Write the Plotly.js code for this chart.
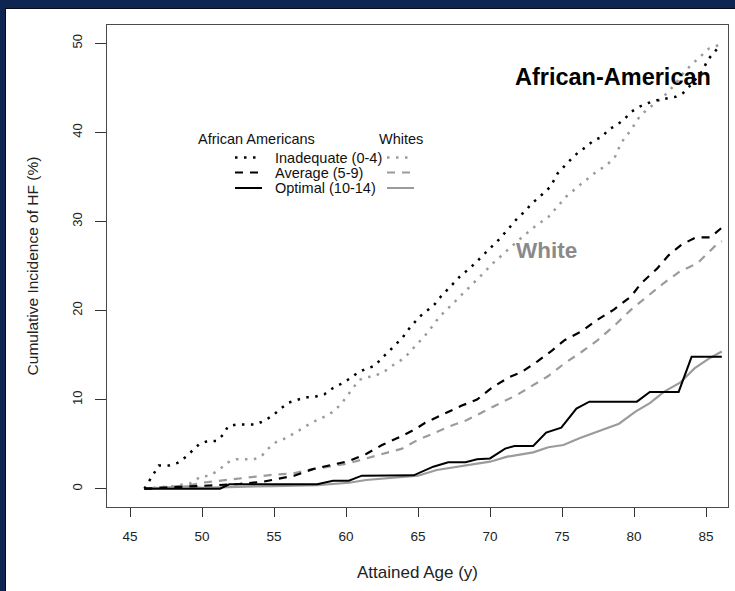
<!DOCTYPE html>
<html>
<head>
<meta charset="utf-8">
<script src="https://cdn.plot.ly/plotly-3.0.1.min.js"></script>
<style>
  html, body { margin: 0; padding: 0; background: #0e2451; width: 735px; height: 591px; overflow: hidden; }
  #wrap { position: absolute; left: 5px; top: 8px; width: 730px; height: 583px; background: #fff;
          border-left: 1px solid #050a14; border-top: 1px solid #050a14; box-sizing: border-box; }
  #plot { position: absolute; left: 0; top: 0; width: 729px; height: 582px; }
</style>
</head>
<body>
<div id="wrap"><div id="plot"></div></div>
<script>
// ---------------- data ----------------
const xTicks = [45, 50, 55, 60, 65, 70, 75, 80, 85];
const yTicks = [0, 10, 20, 30, 40, 50];

// African Americans, Inadequate (0-4)
const aaInadX = [46.0, 46.4, 47.0, 47.7, 48.3, 48.9, 49.3, 49.8, 50.4, 51.0, 51.5, 51.8, 52.4, 53.7, 54.3, 54.9, 55.4, 56.0, 56.6, 57.2, 57.8, 58.5, 59.1, 59.7, 60.3, 60.8, 61.3, 62.0, 62.4, 62.9, 63.4, 63.9, 64.4, 65.1, 66.1, 66.6, 67.2, 67.9, 68.7, 69.4, 70.1, 70.7, 71.4, 71.9, 72.4, 72.9, 73.6, 74.2, 74.7, 75.2, 75.7, 76.1, 76.7, 77.2, 77.8, 78.2, 78.8, 79.4, 79.8, 80.4, 81.0, 81.6, 82.2, 82.9, 83.4, 84.0, 84.4, 84.8, 85.1, 85.6, 86.0];
const aaInadY = [0.0, 1.1, 2.6, 2.6, 2.9, 3.6, 4.2, 5.0, 5.35, 5.35, 6.1, 7.0, 7.2, 7.2, 7.6, 8.2, 8.9, 9.65, 9.96, 10.26, 10.3, 10.6, 11.3, 11.8, 12.4, 13.0, 13.4, 13.8, 14.5, 15.3, 16.05, 16.9, 18.0, 19.3, 20.6, 21.6, 22.6, 23.8, 24.9, 26.0, 27.2, 28.1, 29.4, 30.35, 31.1, 32.0, 33.0, 33.9, 35.4, 36.3, 37.1, 37.7, 38.4, 39.1, 39.5, 40.3, 40.8, 41.6, 42.3, 42.9, 43.3, 43.6, 43.8, 44.0, 44.4, 45.4, 46.2, 47.0, 48.1, 49.1, 49.8];

// Whites, Inadequate (0-4)
const wInadX = [46.0, 48.0, 49.2, 49.9, 50.5, 51.2, 51.7, 52.4, 53.6, 54.1, 54.6, 55.2, 55.8, 56.3, 56.9, 57.5, 58.1, 58.7, 59.2, 59.7, 60.0, 60.4, 60.9, 61.4, 62.0, 62.7, 63.2, 63.8, 64.3, 64.8, 65.6, 66.5, 67.45, 68.4, 69.3, 70.2, 71.2, 72.2, 73.1, 74.05, 74.7, 75.3, 76.1, 76.8, 77.4, 78.1, 78.7, 79.1, 79.8, 80.4, 81.0, 81.6, 82.3, 82.9, 83.4, 84.0, 84.6, 85.2, 85.9, 86.2];
const wInadY = [0.0, 0.3, 0.6, 1.35, 1.46, 2.1, 2.9, 3.3, 3.3, 3.6, 4.5, 5.3, 5.65, 6.1, 6.7, 7.3, 7.8, 8.2, 8.76, 9.6, 10.3, 11.1, 12.2, 12.5, 12.65, 13.2, 13.8, 14.4, 15.1, 16.0, 17.4, 19.3, 20.8, 22.3, 23.8, 25.3, 26.8, 28.2, 29.4, 30.5, 31.7, 32.8, 33.9, 34.8, 35.6, 36.3, 37.3, 38.8, 40.3, 41.8, 42.7, 43.4, 44.4, 45.5, 46.6, 47.6, 48.5, 49.4, 49.8, 50.0];

// African Americans, Average (5-9)
const aaAvgX = [46.0, 48.0, 50.0, 51.5, 52.6, 54.3, 55.2, 56.4, 57.7, 58.9, 60.2, 61.4, 62.5, 63.7, 64.8, 65.5, 66.9, 68.0, 69.1, 70.1, 71.3, 72.2, 73.3, 74.3, 75.2, 76.4, 77.4, 78.6, 79.8, 80.5, 81.6, 82.4, 83.3, 84.3, 85.3, 86.1];
const aaAvgY = [0.0, 0.15, 0.3, 0.4, 0.53, 0.8, 1.05, 1.46, 2.2, 2.66, 3.1, 3.9, 4.9, 5.77, 6.67, 7.4, 8.46, 9.3, 10.0, 11.3, 12.5, 13.1, 14.3, 15.5, 16.7, 17.7, 18.9, 20.1, 21.6, 23.06, 24.7, 26.2, 27.4, 28.2, 28.2, 29.3];

// Whites, Average (5-9)
const wAvgX = [46.0, 48.0, 49.2, 50.0, 51.3, 52.5, 53.8, 55.1, 56.3, 57.7, 58.9, 60.05, 61.4, 62.6, 63.9, 64.9, 66.06, 67.2, 68.4, 69.5, 70.7, 71.85, 73.0, 74.05, 75.2, 76.4, 77.5, 78.7, 79.8, 81.0, 82.05, 83.2, 84.4, 85.6, 86.1];
const wAvgY = [0.0, 0.2, 0.4, 0.67, 0.9, 1.09, 1.35, 1.6, 1.7, 2.2, 2.5, 2.8, 3.4, 3.9, 4.5, 5.4, 6.2, 7.0, 7.7, 8.65, 9.6, 10.5, 11.6, 12.65, 14.1, 15.4, 16.7, 18.4, 20.1, 21.7, 23.06, 24.4, 25.3, 27.2, 27.8];

// African Americans, Optimal (10-14)
const aaOptX = [46.0, 51.25, 51.9, 58.0, 59.1, 60.2, 61.1, 64.7, 66.06, 67.1, 68.3, 69.1, 70.0, 71.05, 71.7, 73.0, 73.9, 74.95, 76.0, 76.9, 80.2, 81.1, 83.1, 84.0, 86.1];
const aaOptY = [0.0, 0.0, 0.5, 0.5, 0.9, 0.9, 1.46, 1.5, 2.47, 2.96, 2.96, 3.3, 3.4, 4.5, 4.8, 4.8, 6.3, 6.85, 9.0, 9.77, 9.77, 10.86, 10.86, 14.8, 14.8];

// Whites, Optimal (10-14)
const wOptX = [46.0, 48.0, 49.0, 50.0, 52.0, 55.0, 58.0, 60.2, 61.4, 63.75, 65.0, 66.3, 68.4, 70.0, 71.2, 73.0, 74.05, 75.1, 76.25, 77.6, 78.96, 80.1, 81.1, 82.1, 83.2, 84.2, 85.2, 86.1];
const wOptY = [0.0, 0.15, 0.25, 0.1, 0.2, 0.3, 0.4, 0.67, 0.98, 1.28, 1.46, 2.1, 2.6, 3.03, 3.6, 4.08, 4.65, 4.9, 5.7, 6.5, 7.3, 8.65, 9.6, 10.9, 11.9, 13.5, 14.6, 15.4];

const groupLabels = ["African Americans", "Whites"];
const levelLabels = ["Inadequate (0-4)", "Average (5-9)", "Optimal (10-14)"];
const groupTags = ["African-American", "White"];

// ---------------- styling ----------------
const BLACK = "#000000";
const GREY = "#9b9b9b";
const DOT = "2.5px,6.5px";
const DASH = "8px,7px";
const FONT = "Liberation Sans, Arial, Helvetica, sans-serif";

function tr(x, y, color, dash, width) {
  return { x: x, y: y, type: "scatter", mode: "lines", hoverinfo: "skip",
           line: { color: color, dash: dash, width: width, shape: "linear" } };
}

const traces = [
  tr(wInadX, wInadY, GREY, DOT, 2.5),
  tr(wAvgX, wAvgY, GREY, DASH, 2.2),
  tr(wOptX, wOptY, GREY, "solid", 2.2),
  tr(aaInadX, aaInadY, BLACK, DOT, 2.5),
  tr(aaAvgX, aaAvgY, BLACK, DASH, 2.2),
  tr(aaOptX, aaOptY, BLACK, "solid", 2.0)
];

// geometry of the plot area inside the 729x582 div
const M = { l: 101, r: 7, t: 16, b: 84 };
const W = 729, H = 582, OX = 6, OY = 9; // page offset of div
const PW = W - M.l - M.r, PH = H - M.t - M.b;
function px(pageX) { return (pageX - OX - M.l) / PW; }
function py(pageY) { return (H - M.b - (pageY - OY)) / PH; }

const shapes = [];
const annotations = [];
const keyStyles = [[DOT, 2.5], [DASH, 2.2], ["solid", 2.0]];
const rowY = [157.5, 172.5, 188];
for (let i = 0; i < 3; i++) {
  shapes.push({ type: "line", xref: "paper", yref: "paper", x0: px(235), x1: px(262), y0: py(rowY[i]), y1: py(rowY[i]),
                line: { color: BLACK, dash: keyStyles[i][0], width: keyStyles[i][1] } });
  shapes.push({ type: "line", xref: "paper", yref: "paper", x0: px(387), x1: px(414), y0: py(rowY[i]), y1: py(rowY[i]),
                line: { color: GREY, dash: keyStyles[i][0], width: keyStyles[i][1] } });
  annotations.push({ xref: "paper", yref: "paper", x: px(273), y: py(rowY[i]), xanchor: "left", yanchor: "middle",
                     text: levelLabels[i], showarrow: false, font: { family: FONT, size: 14.5, color: "#111" } });
}
annotations.push({ xref: "paper", yref: "paper", x: px(256), y: py(138.5), xanchor: "center", yanchor: "middle",
                   text: groupLabels[0], showarrow: false, font: { family: FONT, size: 14.5, color: "#111" } });
annotations.push({ xref: "paper", yref: "paper", x: px(400.5), y: py(138.5), xanchor: "center", yanchor: "middle",
                   text: groupLabels[1], showarrow: false, font: { family: FONT, size: 14.5, color: "#111" } });
annotations.push({ xref: "paper", yref: "paper", x: px(612.5), y: py(77), xanchor: "center", yanchor: "middle",
                   text: "<b>" + groupTags[0] + "</b>", showarrow: false, font: { family: FONT, size: 23.5, color: "#000" } });
annotations.push({ xref: "paper", yref: "paper", x: px(546), y: py(250), xanchor: "center", yanchor: "middle",
                   text: "<b>" + groupTags[1] + "</b>", showarrow: false, font: { family: FONT, size: 22.5, color: "#8a8a8a" } });

const layout = {
  width: W, height: H,
  margin: M,
  paper_bgcolor: "#ffffff",
  plot_bgcolor: "#ffffff",
  showlegend: false,
  font: { family: FONT, color: "#222" },
  xaxis: {
    range: [43.403, 86.528], tickvals: xTicks, ticktext: xTicks.map(String),
    showgrid: false, zeroline: false,
    showline: true, mirror: true, linecolor: "#4a4a4a", linewidth: 1,
    ticks: "outside", ticklen: 9, tickwidth: 1, tickcolor: "#333",
    tickfont: { family: FONT, size: 13.5, color: "#222" }, ticklabelstandoff: 8,
    title: { text: "Attained Age (y)", font: { family: FONT, size: 17, color: "#222" }, standoff: 22 }
  },
  yaxis: {
    range: [-2.054, 52.05], tickvals: yTicks, ticktext: yTicks.map(String),
    showgrid: false, zeroline: false,
    showline: true, mirror: true, linecolor: "#4a4a4a", linewidth: 1,
    ticks: "outside", ticklen: 11, tickwidth: 1, tickcolor: "#333", tickangle: -90,
    tickfont: { family: FONT, size: 13, color: "#222" }, ticklabelstandoff: 8,
    title: { text: "Cumulative Incidence of HF (%)", font: { family: FONT, size: 15.5, color: "#222" }, standoff: 27 }
  },
  shapes: shapes,
  annotations: annotations
};

Plotly.newPlot("plot", traces, layout, { staticPlot: true, displayModeBar: false });
</script>
</body>
</html>
